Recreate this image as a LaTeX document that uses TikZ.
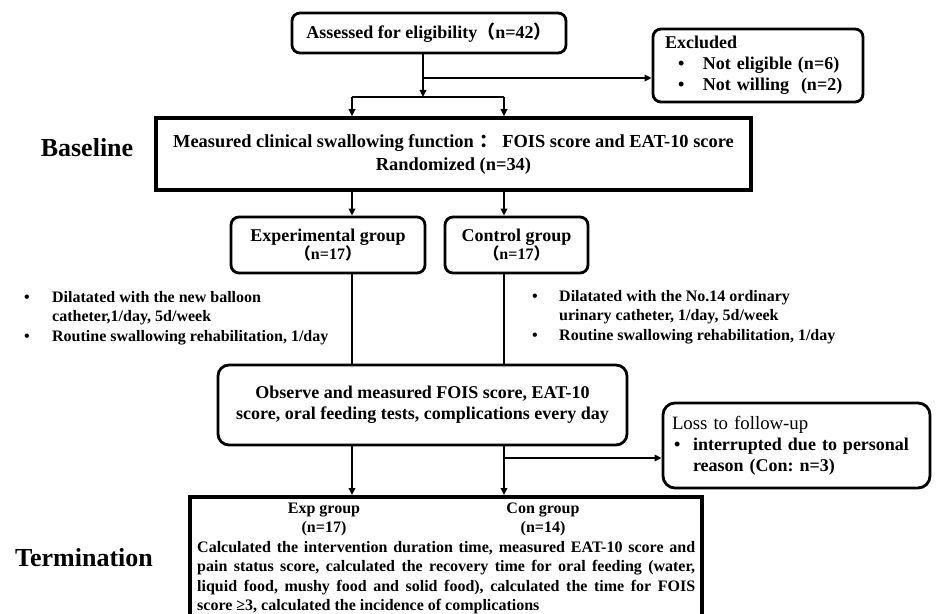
\documentclass[tikz,border=0pt]{standalone}
\usepackage{fontspec}
\setmainfont{Liberation Serif}
\newfontfamily\cjkfont{Noto Sans CJK SC}
\usetikzlibrary{arrows.meta}
\newcommand{\flp}{{\cjkfont （}}
\newcommand{\frp}{{\cjkfont ）}}
\newcommand{\fcolon}{{\cjkfont ：}}
\frenchspacing
\begin{document}
\begin{tikzpicture}[x=1pt,y=1pt,
  rbox/.style={draw, line width=2.8pt, rounded corners=8pt, inner sep=0pt, align=center,
    font=\bfseries\fontsize{18}{21}\selectfont},
  sbox/.style={draw, line width=3.6pt, inner sep=0pt, align=center,
    font=\bfseries\fontsize{18.4}{23}\selectfont},
  note/.style={inner sep=0pt, align=left, font=\bfseries\fontsize{16}{19.5}\selectfont},
  hdr/.style={inner sep=0pt, align=center, font=\bfseries\fontsize{16}{19}\selectfont},
  side/.style={inner sep=0pt, font=\bfseries\fontsize{26}{30}\selectfont},
  conn/.style={line width=2pt},
  arr/.style={conn, -{Triangle[length=7pt,width=6.5pt]}}
]
\useasboundingbox (0,0) rectangle (952,613);
\clip (0,0) rectangle (952,613);

% boxes
\node[rbox, minimum width=274pt, minimum height=40pt] (assess) at (429,580)
  {Assessed for eligibility\flp n=42\frp};
\node[rbox, minimum width=210pt, minimum height=73pt, text width=186pt, align=left,
  inner xsep=12pt] (excl) at (758,547.5)
  {Excluded\\\hspace*{13pt}\makebox[25pt][l]{•}Not eligible (n=6)\\\hspace*{13pt}\makebox[25pt][l]{•}Not willing\ \ (n=2)};
\node[sbox, minimum width=595pt, minimum height=72pt] (base) at (453.5,459)
  {Measured clinical swallowing function\hspace{0.3em}\fcolon{} FOIS score and EAT-10 score\\Randomized (n=34)};
\node[rbox, minimum width=194pt, minimum height=56pt, font=\bfseries\fontsize{18}{18}\selectfont] (exp) at (328,368)
  {Experimental group\\{\fontsize{16}{18}\selectfont\flp n=17\frp}};
\node[rbox, minimum width=143pt, minimum height=56pt, font=\bfseries\fontsize{18}{18}\selectfont] (ctrl) at (516.5,368)
  {Control group\\{\fontsize{16}{18}\selectfont\flp n=17\frp}};
\node[rbox, rounded corners=11pt, minimum width=409pt, minimum height=80pt] (obs) at (422.5,208)
  {Observe and measured FOIS score, EAT-10\\score, oral feeding tests, complications every day};
\node[rbox, rounded corners=12pt, minimum width=267pt, minimum height=85pt, text width=249pt, align=left,
  inner xsep=9pt] (loss) at (796.5,167.5)
  {{\mdseries\fontsize{18.8}{21}\selectfont Loss to follow-up}\\\hspace*{2pt}\makebox[19pt][l]{•}interrupted due to personal\\\hspace*{21pt}reason (Con: n=3)};
\node[sbox, minimum width=512pt, minimum height=140pt, anchor=north] (term) at (446,118) {};

% texts inside the termination box
\node[hdr] (bexp) at (324,93.5) {Exp group\\(n=17)};
\node[hdr] (bcon) at (543,93.5) {Con group\\(n=14)};
\node[note, anchor=north west, text width=498pt, align=justify] (bbody) at (197,72)
  {\tolerance=10000\hyphenpenalty=10000 Calculated the intervention duration time, measured EAT-10 score and\linebreak
   pain status score, calculated the recovery time for oral feeding (water,\linebreak
   liquid food, mushy food and solid food), calculated the time for FOIS\linebreak
   score ≥3, calculated the incidence of complications};

% side notes
\node[note, anchor=west] (expnote) at (24,295)
  {\makebox[28pt][l]{•}Dilatated with the new balloon\\\hspace*{28pt}catheter,1/day, 5d/week\\\makebox[28pt][l]{•}Routine swallowing rehabilitation, 1/day};
\node[note, anchor=west] (ctrlnote) at (532,296)
  {\makebox[27pt][l]{•}Dilatated with the No.14 ordinary\\\hspace*{27pt}urinary catheter, 1/day, 5d/week\\\makebox[27pt][l]{•}Routine swallowing rehabilitation, 1/day};

% stage labels
\node[side] (lbase) at (87,465) {Baseline};
\node[side] (lterm) at (84,55) {Termination};

% connector coordinates
\coordinate (xA) at (423,0);
\coordinate (xL) at (352,0);
\coordinate (xR) at (504,0);
\coordinate (yB) at (0,535);
\coordinate (yH) at (0,516);
\coordinate (yL) at (0,155);

\draw[arr] (assess.south -| xA) -- (yH -| xA);
\draw[arr] (yB -| xA) -- (excl.west |- yB);
\draw[conn] (yH -| xL) -- (yH -| xR);
\draw[arr] (yH -| xL) -- (base.north -| xL);
\draw[arr] (yH -| xR) -- (base.north -| xR);
\draw[arr] (base.south -| xL) -- (exp.north -| xL);
\draw[arr] (base.south -| xR) -- (ctrl.north -| xR);
\draw[conn] (exp.south -| xL) -- (obs.north -| xL);
\draw[conn] (ctrl.south -| xR) -- (obs.north -| xR);
\draw[arr] (obs.south -| xL) -- (term.north -| xL);
\draw[arr] (obs.south -| xR) -- (term.north -| xR);
\draw[arr] (yL -| xR) -- (loss.west |- yL);
\end{tikzpicture}
\end{document}
